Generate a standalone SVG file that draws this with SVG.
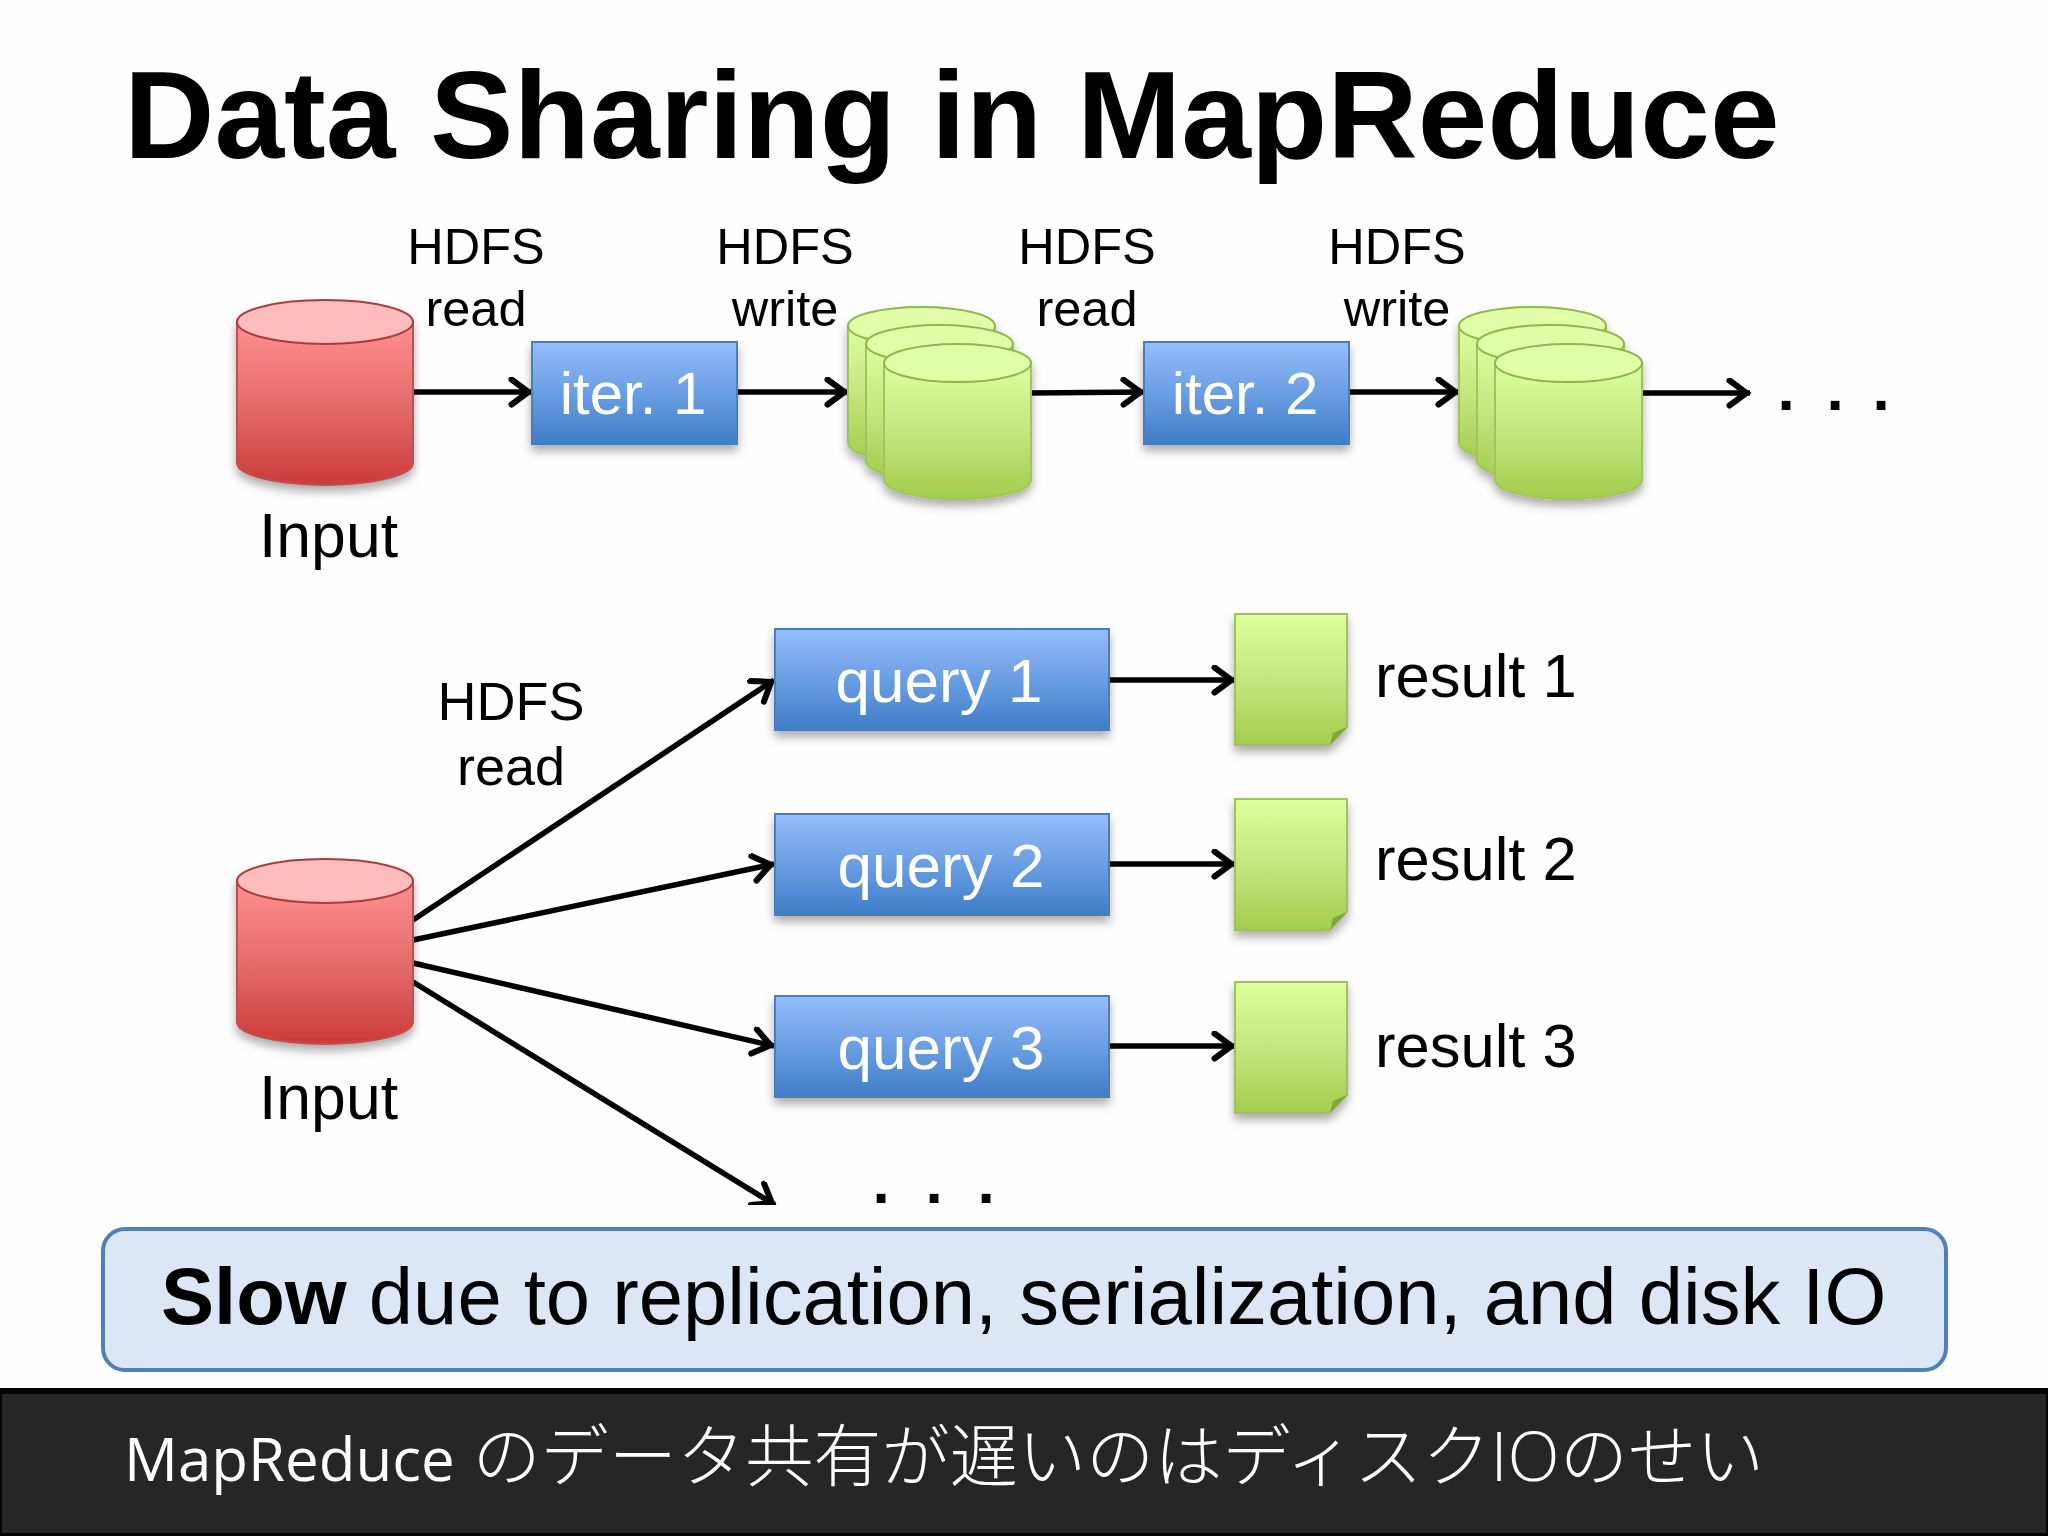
<svg xmlns="http://www.w3.org/2000/svg" xmlns:xlink="http://www.w3.org/1999/xlink" width="2048" height="1536" viewBox="0 0 2048 1536">
<style>
text{font-family:"Liberation Sans",Arial,sans-serif;fill:#000}
.t50{font-size:50.500px;text-anchor:middle}
.t54{font-size:54px;text-anchor:middle}
.t60{font-size:61.500px}
.in{font-size:62.500px}
.w{font-size:60px;fill:#fff;text-anchor:middle}
.q{font-size:62px;fill:#fff;text-anchor:middle}
.dots{font-size:62px;font-weight:bold;text-anchor:middle}
.box{fill:url(#blue);stroke:#4a7ebb;stroke-width:2;filter:url(#sh)}
.c{stroke:#000;stroke-width:5.500;fill:none;marker-end:url(#arr)}
</style>
<defs>
<linearGradient id="red" x1="0" y1="0" x2="0" y2="1"><stop offset="0" stop-color="#ff9090"/><stop offset=".55" stop-color="#e26868"/><stop offset="1" stop-color="#cd3a3a"/></linearGradient>
<linearGradient id="green" x1="0" y1="0" x2="0" y2="1"><stop offset="0" stop-color="#dcff9f"/><stop offset=".5" stop-color="#c4e67e"/><stop offset="1" stop-color="#a2cd4c"/></linearGradient>
<linearGradient id="blue" x1="0" y1="0" x2="0" y2="1"><stop offset="0" stop-color="#96bdfa"/><stop offset=".5" stop-color="#6a9ee2"/><stop offset="1" stop-color="#3f7dc8"/></linearGradient>
<filter id="sh" x="-10%" y="-10%" width="120%" height="130%"><feDropShadow dx="0" dy="6" stdDeviation="5" flood-color="#000" flood-opacity=".32"/></filter>
<marker id="arr" markerUnits="userSpaceOnUse" markerWidth="34" markerHeight="34" refX="26.500" refY="15" orient="auto"><path d="M6 2.500 L23 15 L6 27.500" fill="none" stroke="#000" stroke-width="6" stroke-linecap="round"/></marker>
<g id="cylR"><path d="M0 22V163A88 22 0 0 0 176 163V22Z" fill="url(#red)" stroke="#c05050" stroke-width="2"/><ellipse cx="88" cy="22" rx="88" ry="22" fill="#ffbcbc" stroke="#a83c3c" stroke-width="2"/></g>
<g id="cylG"><path d="M0 19V136A73.500 19 0 0 0 147 136V19Z" fill="url(#green)" stroke="#a2c45c" stroke-width="2"/><ellipse cx="73.500" cy="19" rx="73.500" ry="19" fill="#e0ffa8" stroke="#8fb84a" stroke-width="2"/></g>
<g id="doc"><path d="M0 0H112V113L95 131H0Z" fill="url(#green)" stroke="#a2c060" stroke-width="2" filter="url(#sh)"/><path d="M112 113L98 119L95 131Z" fill="#82a43c"/></g>
</defs>
<rect width="2048" height="1536" fill="#fefefe"/>
<text id="title" x="124" y="158" font-size="125.200" font-weight="bold">Data Sharing in MapReduce</text>

<g id="connectors">
<path class="c" d="M413 392H532"/>
<path class="c" d="M737 392H848"/>
<path class="c" d="M1031 393L1144 392"/>
<path class="c" d="M1349 392H1459"/>
<path class="c" d="M1642 393H1750"/>
<path class="c" d="M413 920L774 680"/>
<path class="c" d="M413 940L774 864"/>
<path class="c" d="M413 963L774 1046"/>
<path class="c" d="M413 982L775 1205"/>
<path class="c" d="M1109 680H1235"/>
<path class="c" d="M1109 864H1235"/>
<path class="c" d="M1109 1046H1235"/>
</g>
<rect x="740" y="1205" width="60" height="14" fill="#fefefe"/>

<g id="input1"><use xlink:href="#cylR" x="237" y="300" filter="url(#sh)"/><text class="in" x="259" y="557">Input</text></g>
<g id="iter1"><rect class="box" x="532" y="342" width="205" height="102"/><text class="w" x="633" y="414">iter. 1</text></g>
<g id="store1" filter="url(#sh)"><use xlink:href="#cylG" x="848" y="307"/><use xlink:href="#cylG" x="866" y="325"/><use xlink:href="#cylG" x="884" y="344"/></g>
<g id="iter2"><rect class="box" x="1144" y="342" width="205" height="102"/><text class="w" x="1245" y="414">iter. 2</text></g>
<g id="store2" filter="url(#sh)"><use xlink:href="#cylG" x="1459" y="307"/><use xlink:href="#cylG" x="1477" y="325"/><use xlink:href="#cylG" x="1495" y="344"/></g>
<g id="labels1">
<text class="t50" x="476" y="264">HDFS</text><text class="t50" x="476" y="326">read</text>
<text class="t50" x="785" y="264">HDFS</text><text class="t50" x="785" y="326">write</text>
<text class="t50" x="1087" y="264">HDFS</text><text class="t50" x="1087" y="326">read</text>
<text class="t50" x="1397" y="264">HDFS</text><text class="t50" x="1397" y="326">write</text>
</g>
<g id="dots1"><text class="dots" x="1786" y="410">.</text><text class="dots" x="1835" y="410">.</text><text class="dots" x="1881" y="410">.</text></g>

<g id="input2"><use xlink:href="#cylR" x="237" y="859" filter="url(#sh)"/><text class="in" x="259" y="1119">Input</text></g>
<g id="label2"><text class="t54" x="511" y="720">HDFS</text><text class="t54" x="511" y="785">read</text></g>
<g id="query1"><rect class="box" x="775" y="629" width="334" height="101"/><text class="q" x="939" y="702">query 1</text></g>
<g id="query2"><rect class="box" x="775" y="814" width="334" height="101"/><text class="q" x="941" y="887">query 2</text></g>
<g id="query3"><rect class="box" x="775" y="996" width="334" height="101"/><text class="q" x="941" y="1069">query 3</text></g>
<g id="result1"><use xlink:href="#doc" x="1235" y="614"/><text class="t60" x="1375" y="697">result 1</text></g>
<g id="result2"><use xlink:href="#doc" x="1235" y="799"/><text class="t60" x="1375" y="880">result 2</text></g>
<g id="result3"><use xlink:href="#doc" x="1235" y="982"/><text class="t60" x="1375" y="1067">result 3</text></g>
<g id="dots2"><text class="dots" x="881" y="1203">.</text><text class="dots" x="934" y="1203">.</text><text class="dots" x="986" y="1203">.</text></g>

<g id="callout"><rect x="103" y="1229" width="1843" height="141" rx="22" fill="#dde6f4" stroke="#4f81bd" stroke-width="4"/>
<text x="161" y="1324" font-size="79.600"><tspan font-weight="bold">Slow</tspan> due to replication, serialization, and disk IO</text></g>

<g id="subtitle"><rect y="1388" width="2048" height="148" fill="#000"/><rect x="2" y="1394" width="2044" height="139" fill="#262626"/>
<text x="124" y="1481" font-size="60" style="font-family:'Open Sans','Noto Sans CJK JP',sans-serif;fill:#fff">MapReduce<tspan font-size="68.200" font-weight="300"> のデータ共有が遅いのはディスクIOのせい</tspan></text></g>
</svg>
